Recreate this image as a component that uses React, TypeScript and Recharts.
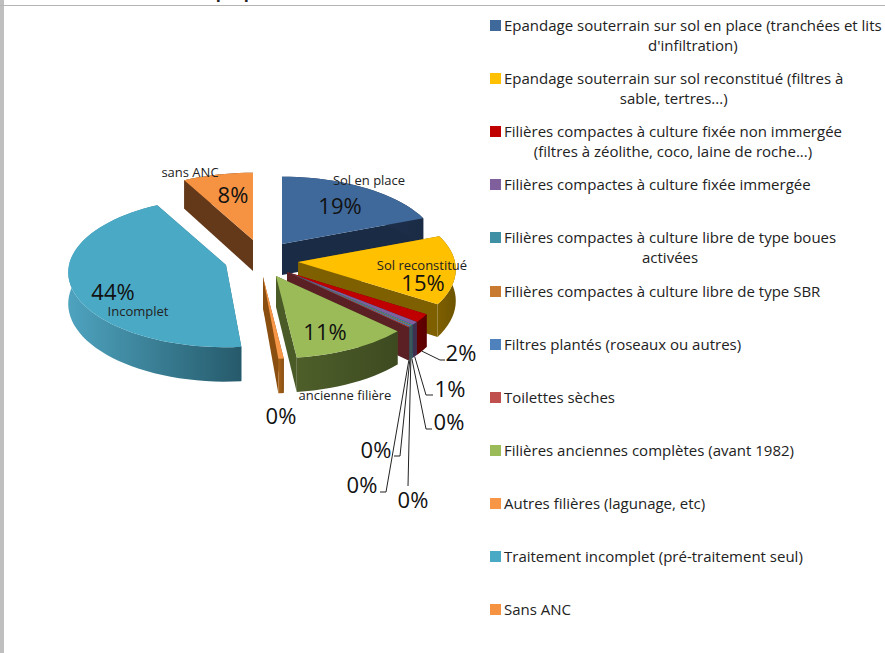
import { PieChart, Pie, Legend } from "recharts";

const categories = [
  "Epandage souterrain sur sol en place (tranchées et lits\nd'infiltration)",
  "Epandage souterrain sur sol reconstitué (filtres à\nsable, tertres...)",
  "Filières compactes à culture fixée non immergée\n(filtres à zéolithe, coco, laine de roche...)",
  "Filières compactes à culture fixée immergée",
  "Filières compactes à culture libre de type boues\nactivées",
  "Filières compactes à culture libre de type SBR",
  "Filtres plantés (roseaux ou autres)",
  "Toilettes sèches",
  "Filières anciennes complètes (avant 1982)",
  "Autres filières (lagunage, etc)",
  "Traitement incomplet (pré-traitement seul)",
  "Sans ANC",
];
const shares = [19.1, 15.0, 1.8, 0.7, 0.2, 0.1, 0.2, 0.1, 10.9, 0.5, 43.5, 7.9];
const shownPercent = ["19%", "15%", "2%", "1%", "0%", "0%", "0%", "0%", "11%", "0%", "44%", "8%"];
const sliceNames = ["Sol en place", "Sol reconstitué", "", "", "", "", "", "", "ancienne filière", "", "Incomplet", "sans ANC"];

const topColors = ["#40699b", "#ffc000", "#c00000", "#7f5f9c", "#3f8fa5", "#c87a30", "#4f81bd", "#c0504d", "#9bbb59", "#f79646", "#4aa9c5", "#f59343"];
const wallColors = ["#1a2b45", "#7f6000", "#650000", "#40304f", "#245a68", "#6b4018", "#2a6272", "#5a2024", "#4b5b28", "#8a4f10", "#2f7186", "#63391a"];
const rimLeft = ["#233a5c", "#7f6000", "#650000", "#40304f", "#2a6676", "#6b4018", "#2a6272", "#5a2024", "#4e5f2a", "#a8641a", "#4ea3bf", "#63391a"];
const rimRight = ["#1a2b45", "#6e5400", "#5a0000", "#40304f", "#245a68", "#6b4018", "#2a6272", "#5a2024", "#3d4a20", "#8a4f10", "#265a6b", "#63391a"];
// how far each slice is pulled out of the pie
const explodeX = [12, 28, 17, 17, 17, 17, 17, 17, 6, -7, -44, -17];
const explodeY = [-13, 5, 15, 15, 15, 15, 15, 15, 19, 20, 8, -17];

const centerX = 270;
const centerY = 257;
const radiusX = 157;
const radiusY = 74;
const depth = 31;
const lean = 0.1;

const project = (angle: number, r: number) => {
  const rad = (angle * Math.PI) / 180;
  const z = Math.cos(rad) * r;
  const f = 1 / (1 + lean * z);
  return { x: Math.sin(rad) * r * f * radiusX, y: -z * f * radiusY, f };
};

// recharts hands over angles counted counter-clockwise from 3 o'clock
const toClock = (a: number) => 90 - a;

const Slice3D = (props: any) => {
  const { startAngle, endAngle, index } = props;
  const a0 = toClock(startAngle);
  const a1 = toClock(endAngle);
  const ax = centerX + explodeX[index];
  const ay = centerY + explodeY[index];
  const steps = Math.max(2, Math.ceil((a1 - a0) / 3));
  const rim = [];
  for (let i = 0; i <= steps; i++) {
    const p = project(a0 + ((a1 - a0) * i) / steps, 1);
    rim.push({ x: ax + p.x, y: ay + p.y, d: depth * p.f });
  }
  const arc = rim.map((p) => `${p.x},${p.y}`).join(" ");
  const first = rim[0];
  const last = rim[rim.length - 1];
  const lower = [...rim].reverse().map((p) => `${p.x},${p.y + p.d}`).join(" ");
  const gradId = `rim${index}`;
  return (
    <g>
      <defs>
        <linearGradient id={gradId} x1="0" y1="0" x2="1" y2="0">
          <stop offset="0%" stopColor={rimLeft[index]} />
          <stop offset="100%" stopColor={rimRight[index]} />
        </linearGradient>
      </defs>
      <polygon
        points={`${ax},${ay} ${first.x},${first.y} ${first.x},${first.y + first.d} ${ax},${ay + depth}`}
        fill={wallColors[index]}
      />
      <polygon
        points={`${ax},${ay} ${last.x},${last.y} ${last.x},${last.y + last.d} ${ax},${ay + depth}`}
        fill={wallColors[index]}
      />
      <polygon points={`${arc} ${lower}`} fill={`url(#${gradId})`} />
      <polygon points={`${ax},${ay} ${arc}`} fill={topColors[index]} />
    </g>
  );
};

const percentPos = [
  [340, 205], [423, 282], [461, 352], [450, 388], [449, 421], [413, 499], [376, 449], [362, 484], [325, 331], [281, 415], [113, 291], [233, 194],
];
const namePos = [
  [369, 180], [422, 265], null, null, null, null, null, null, [345, 395], null, [138, 311], [190, 172],
];
const leaderBends = [
  null, null,
  [[440, 360], [445, 360]],
  [[426, 395], [433, 395]],
  [[426, 429], [432, 429]],
  [[408, 486]],
  [[400, 456], [394, 456]],
  [[386, 492], [380, 492]],
  null, null, null, null,
];

const SliceLabel = (props: any) => {
  const i = props.index;
  const pct = percentPos[i];
  const nm = namePos[i];
  return (
    <g>
      <text x={pct[0]} y={pct[1]} textAnchor="middle" dominantBaseline="central" fontSize={22} fill="#111" fontFamily="Open Sans">
        {shownPercent[i]}
      </text>
      {nm && (
        <text x={nm[0]} y={nm[1]} textAnchor="middle" dominantBaseline="central" fontSize={13} fill="#222" fontFamily="Open Sans">
          {sliceNames[i]}
        </text>
      )}
    </g>
  );
};

const SliceLeader = (props: any) => {
  const i = props.index;
  const bend = leaderBends[i];
  if (!bend) return <g />;
  const mid = (toClock(props.startAngle ?? 0) + toClock(props.endAngle ?? 0)) / 2;
  const rimPt = project(mid, 1);
  const sx = centerX + explodeX[i] + rimPt.x;
  const sy = centerY + explodeY[i] + rimPt.y + depth * rimPt.f;
  const pts = [[sx, sy], ...bend].map((p) => p.join(",")).join(" ");
  return <polyline points={pts} fill="none" stroke="#222" strokeWidth={1} />;
};

const LegendList = ({ payload }: any) => (
  <div>
    {(payload ?? []).map((entry: any, i: number) => (
      <div key={i} style={{ position: "absolute", left: 0, top: i * 53.1, display: "flex", alignItems: "flex-start" }}>
        <span style={{ width: 11, height: 11, marginTop: 5, marginRight: 3, background: topColors[i], flex: "none" }} />
        <span style={{ whiteSpace: "pre-line", textAlign: "center", fontSize: 15, lineHeight: "20px", color: "#222", fontFamily: "Open Sans" }}>
          {categories[i]}
        </span>
      </div>
    ))}
  </div>
);

const chartData = categories.map((name, i) => ({ name, value: shares[i], fill: topColors[i] }));

export default function App() {
  return (
    <div style={{ position: "absolute", left: 0, top: 0, width: 885, height: 653, background: "#fff", overflow: "hidden" }}>
      <div style={{ position: "absolute", left: 0, top: 0, width: 4, height: 653, background: "#bfbfbf" }} />
      <div style={{ position: "absolute", left: 0, top: 5, width: 885, height: 1, background: "#b5b5b5" }} />
      <div style={{ position: "absolute", left: 12, top: -20, fontFamily: "Open Sans", fontWeight: 700, fontSize: 16.5, color: "#222", whiteSpace: "nowrap" }}>
        Choix d'installation ANC proposée
      </div>
      <PieChart width={885} height={653} style={{ position: "absolute", left: 0, top: 0 }}>
        <Pie
          data={chartData}
          dataKey="value"
          nameKey="name"
          cx={centerX}
          cy={centerY}
          outerRadius={150}
          startAngle={90}
          endAngle={-270}
          stroke="none"
          isAnimationActive={false}
          shape={Slice3D}
          label={SliceLabel}
          labelLine={SliceLeader}
        />
        <Legend
          layout="vertical"
          align="left"
          verticalAlign="top"
          wrapperStyle={{ position: "absolute", left: 490, top: 15, width: 395 }}
          content={LegendList}
        />
      </PieChart>
    </div>
  );
}
